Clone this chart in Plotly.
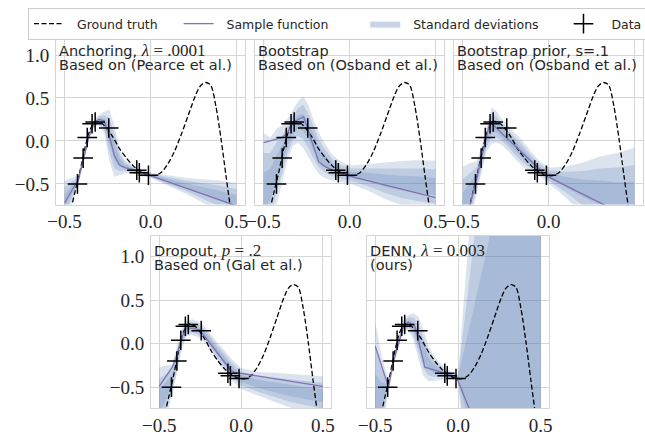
import plotly.graph_objects as go

# ---------------- data ----------------
X_GRID = [-0.5, -0.46, -0.42, -0.39, -0.36, -0.33, -0.30, -0.27, -0.24, -0.21,
          -0.18, -0.15, -0.10, -0.05, 0.0, 0.1, 0.2, 0.3, 0.4, 0.5]

GT_X = [-0.52, -0.50, -0.47, -0.44, -0.41, -0.38, -0.35, -0.32, -0.29, -0.26, -0.22,
        -0.18, -0.14, -0.10, -0.06, -0.02, 0.02, 0.06, 0.10, 0.14, 0.18, 0.22, 0.26,
        0.29, 0.32, 0.35, 0.38, 0.41, 0.44, 0.47, 0.50]
GT_Y = [-1.40, -1.10, -0.85, -0.60, -0.35, -0.07, 0.14, 0.225, 0.215, 0.16, 0.05,
        -0.09, -0.20, -0.29, -0.355, -0.395, -0.405, -0.37, -0.27, -0.12, 0.08, 0.30, 0.52,
        0.64, 0.68, 0.65, 0.41, 0.03, -0.415, -0.845, -1.27]

DATA_X = [-0.425, -0.392, -0.368, -0.34, -0.322, -0.243, -0.08, -0.065, -0.012]
DATA_Y = [-0.50, -0.20, 0.04, 0.20, 0.22, 0.15, -0.34, -0.37, -0.40]

# Anchoring
ANCH_SAMPLE_X = [-0.5, -0.46, -0.42, -0.39, -0.36, -0.33, -0.30, -0.27, -0.24, -0.21, -0.18, -0.15, -0.10, -0.05, 0.0, 0.5]
ANCH_SAMPLE_Y = [-0.72, -0.58, -0.45, -0.21, 0.04, 0.20, 0.25, 0.235, 0.06, -0.17, -0.28, -0.31, -0.335, -0.37, -0.405, -0.755]
ANCH_MEAN = [-0.70, -0.58, -0.46, -0.21, 0.04, 0.20, 0.245, 0.22, 0.07, -0.12, -0.25, -0.30, -0.335, -0.37, -0.40, -0.46, -0.52, -0.58, -0.64, -0.70]
ANCH_SD = [0.08, 0.05, 0.02, 0.015, 0.015, 0.015, 0.02, 0.04, 0.10, 0.10, 0.05, 0.025, 0.015, 0.015, 0.01, 0.02, 0.03, 0.045, 0.06, 0.07]

# Bootstrap
BOOT_SAMPLE_X = [-0.5, -0.46, -0.42, -0.39, -0.36, -0.33, -0.30, -0.267, -0.24, -0.21, -0.18, -0.15, -0.10, -0.05, 0.0, 0.5]
BOOT_SAMPLE_Y = [-0.02, 0.0, 0.02, 0.04, 0.10, 0.20, 0.25, 0.28, 0.12, -0.07, -0.24, -0.29, -0.34, -0.38, -0.41, -0.66]
BOOT_MEAN = [-0.60, -0.50, -0.30, -0.15, 0.02, 0.15, 0.22, 0.22, 0.12, -0.02, -0.14, -0.22, -0.31, -0.36, -0.39, -0.42, -0.46, -0.49, -0.51, -0.53]
BOOT_SD = [0.23, 0.18, 0.15, 0.11, 0.08, 0.07, 0.08, 0.10, 0.10, 0.09, 0.08, 0.07, 0.05, 0.04, 0.035, 0.05, 0.07, 0.085, 0.095, 0.10]

# Bootstrap prior
PRIOR_SAMPLE_X = [-0.5, -0.34, -0.01, 0.5]
PRIOR_SAMPLE_Y = [-1.11, 0.22, -0.41, -0.92]
PRIOR_MEAN = [-0.75, -0.62, -0.45, -0.22, 0.03, 0.18, 0.16, 0.10, 0.04, -0.02, -0.09, -0.15, -0.25, -0.33, -0.40, -0.48, -0.55, -0.60, -0.65, -0.68]
PRIOR_SD = [0.15, 0.12, 0.07, 0.05, 0.05, 0.07, 0.06, 0.05, 0.05, 0.05, 0.05, 0.05, 0.04, 0.03, 0.03, 0.06, 0.10, 0.14, 0.17, 0.20]

# Dropout
DROP_SAMPLE_X = [-0.5, -0.42, -0.39, -0.36, -0.335, -0.29, -0.25, -0.06, -0.04, 0.5]
DROP_SAMPLE_Y = [-0.49, -0.27, -0.12, 0.08, 0.18, 0.18, 0.15, -0.31, -0.33, -0.49]
DROP_MEAN = [-0.66, -0.55, -0.42, -0.16, 0.07, 0.18, 0.19, 0.17, 0.14, 0.08, 0.0, -0.08, -0.20, -0.31, -0.40, -0.46, -0.50, -0.54, -0.57, -0.60]
DROP_SD = [0.13, 0.10, 0.06, 0.05, 0.04, 0.03, 0.03, 0.03, 0.03, 0.03, 0.03, 0.035, 0.04, 0.04, 0.04, 0.045, 0.055, 0.065, 0.07, 0.075]

# DENN
DENN_SAMPLE_X = [-0.5, -0.42, -0.39, -0.36, -0.33, -0.30, -0.26, -0.20, -0.07, -0.01, 0.1]
DENN_SAMPLE_Y = [-0.03, -0.50, -0.21, 0.0, 0.20, 0.25, 0.20, -0.27, -0.35, -0.38, -0.90]
DENN_MEAN = [-0.65, -0.60, -0.48, -0.20, 0.02, 0.20, 0.24, 0.20, 0.07, -0.10, -0.22, -0.28, -0.33, -0.36, -0.39, -0.35, -0.30, -0.25, -0.20, -0.15]
DENN_SD = [0.30, 0.15, 0.02, 0.02, 0.02, 0.025, 0.03, 0.05, 0.08, 0.09, 0.07, 0.05, 0.03, 0.015, 0.01, 0.80, 1.6, 2.4, 3.2, 4.0]

MATH = '<span style="font-family:Liberation Serif;font-size:17px">'
TITLES = [
    ('Anchoring, ' + MATH + '<i>λ</i> = .0001</span>', 'Based on (Pearce et al.)'),
    ('Bootstrap', 'Based on (Osband et al.)'),
    ('Bootstrap prior, s=.1', 'Based on (Osband et al.)'),
    ('Dropout, ' + MATH + '<i>p</i> = .2</span>', 'Based on (Gal et al.)'),
    ('DENN, ' + MATH + '<i>λ</i> = 0.003</span>', '(ours)'),
]
LEGEND_NAMES = ['Ground truth', 'Sample function', 'Standard deviations', 'Data']
X_TICKS = [-0.5, 0.0, 0.5]
Y_TICKS = [-0.5, 0.0, 0.5, 1.0]

# ---------------- layout geometry (pixels) ----------------
W, H = 645, 437
PANELS_PX = [  # left, right, top, bottom
    (56, 245, 34, 204.5),
    (255, 444, 34, 204.5),
    (454, 643, 34, 204.5),
    (151, 331, 235.5, 408),
    (367, 549, 235.5, 408),
]
SERIES = [
    (ANCH_SAMPLE_X, ANCH_SAMPLE_Y, ANCH_MEAN, ANCH_SD),
    (BOOT_SAMPLE_X, BOOT_SAMPLE_Y, BOOT_MEAN, BOOT_SD),
    (PRIOR_SAMPLE_X, PRIOR_SAMPLE_Y, PRIOR_MEAN, PRIOR_SD),
    (DROP_SAMPLE_X, DROP_SAMPLE_Y, DROP_MEAN, DROP_SD),
    (DENN_SAMPLE_X, DENN_SAMPLE_Y, DENN_MEAN, DENN_SD),
]
SHOW_Y = [True, False, False, True, False]

BAND_COLOR = 'rgba(76,114,176,0.2)'
SAMPLE_COLOR = '#8172b3'
TXT = '#262626'
GRID = '#d5d5d5'
NB = '\u00a0'
LEG_TRAIL = [4, 8, 5, 0]


def leg(j):
    return NB * 2 + LEGEND_NAMES[j] + NB * LEG_TRAIL[j]


fig = go.Figure()

for i, ((sx, sy, mean, sd), (l, r, t, b)) in enumerate(zip(SERIES, PANELS_PX), start=1):
    xr = 'x' if i == 1 else f'x{i}'
    yr = 'y' if i == 1 else f'y{i}'
    for k in (3, 2, 1):
        up = [m + k * s for m, s in zip(mean, sd)]
        lo = [m - k * s for m, s in zip(mean, sd)]
        fig.add_trace(go.Scatter(x=X_GRID + X_GRID[::-1], y=up + lo[::-1], fill='toself',
                                 fillcolor=BAND_COLOR, line=dict(width=0), mode='lines',
                                 hoverinfo='skip', showlegend=False, xaxis=xr, yaxis=yr))
    fig.add_trace(go.Scatter(x=GT_X, y=GT_Y, mode='lines', name=leg(0),
                             line=dict(color='black', width=1.3, dash='5px,2.5px', shape='spline', smoothing=0.8),
                             showlegend=(i == 1), xaxis=xr, yaxis=yr))
    fig.add_trace(go.Scatter(x=sx, y=sy, mode='lines', name=leg(1),
                             line=dict(color=SAMPLE_COLOR, width=1.3),
                             showlegend=(i == 1), xaxis=xr, yaxis=yr))
    if i == 1:
        fig.add_trace(go.Scatter(x=[None], y=[None], mode='lines', fill='toself',
                                 fillcolor='rgba(76,114,176,0.3)', line=dict(width=0),
                                 name=leg(2), xaxis=xr, yaxis=yr))
    fig.add_trace(go.Scatter(x=DATA_X, y=DATA_Y, mode='markers', name=leg(3),
                             marker=dict(symbol='cross-thin', size=14, line=dict(color='black', width=1.5)),
                             showlegend=(i == 1), xaxis=xr, yaxis=yr))

    xa = 'xaxis' if i == 1 else f'xaxis{i}'
    ya = 'yaxis' if i == 1 else f'yaxis{i}'
    fig.layout[xa] = dict(domain=[l / W, r / W], anchor=yr, range=[-0.55, 0.55], automargin=False,
                          tickvals=X_TICKS, tickformat='.1f', showgrid=True, gridcolor=GRID,
                          gridwidth=1, zeroline=False, showline=True, mirror=True, linecolor=GRID,
                          ticks='', ticklabelstandoff=0,
                          tickfont=dict(family='Liberation Serif', size=19, color=TXT))
    fig.layout[ya] = dict(domain=[1 - b / H, 1 - t / H], anchor=xr, range=[-0.74, 1.245], automargin=False,
                          tickvals=Y_TICKS, tickformat='.1f', showgrid=True, gridcolor=GRID,
                          gridwidth=1, zeroline=False, showline=True, mirror=True, linecolor=GRID,
                          ticks='', ticklabelstandoff=2, showticklabels=SHOW_Y[i - 1],
                          tickfont=dict(family='Liberation Serif', size=19, color=TXT))
    # title text (two lines)
    l1, l2 = TITLES[i - 1]
    base = t + (17 if i <= 3 else 15)
    for txt, yy in ((l1, base), (l2, base + 14)):
        fig.add_annotation(text=txt, x=(l + 1) / W, y=1 - yy / H, xref='paper', yref='paper',
                           xanchor='left', yanchor='middle', showarrow=False,
                           font=dict(family='DejaVu Sans', size=14.5, color=TXT))

fig.update_layout(
    width=W, height=H, margin=dict(l=0, r=0, t=0, b=0, autoexpand=False),
    paper_bgcolor='white', plot_bgcolor='white',
    showlegend=True,
    legend=dict(orientation='h', x=28 / W, xanchor='left', y=1 - 8 / H, yanchor='top',
                bgcolor='white', bordercolor='#cccccc', borderwidth=1,
                font=dict(family='DejaVu Sans', size=12.5, color=TXT)),
)

fig.write_html('out.html', config={'displayModeBar': False},
               post_script="document.body.style.margin='0';document.body.style.padding='0';"
                           "document.documentElement.style.overflow='hidden';")
